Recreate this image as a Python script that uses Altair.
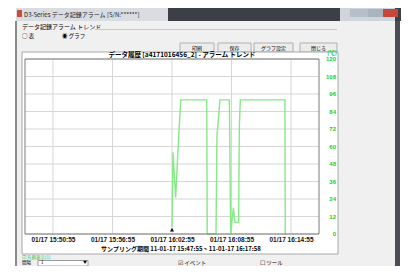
import altair as alt
import pandas as pd

# ---- data ----
sample_time = ["16:02:55", "16:03:01", "16:03:17", "16:03:31", "16:03:48",
               "16:06:25", "16:06:28", "16:07:21", "16:07:27", "16:07:45",
               "16:08:42", "16:08:50", "16:09:06", "16:09:16", "16:09:38",
               "16:09:42", "16:09:48", "16:14:18", "16:14:20"]
values = [5, 56, 25, 57, 92, 92, 0, 0, 67, 92, 92, 0, 18, 8, 8, 72, 92, 92, 0]

tick_labels = ["01/17 15:50:55", "01/17 15:56:55", "01/17 16:02:55",
               "01/17 16:08:55", "01/17 16:14:55"]
y_ticks = [0, 12, 24, 36, 48, 60, 72, 84, 96, 108, 120]
event_time = ["16:02:55"]

chart_title = "データ履歴 [a4171016456_2] - アラーム トレンド"
window_title = "D3-Series データ記録アラーム [S/N:******]"
sampling_text = "サンプリング期間 11-01-17 15:47:55 ~ 11-01-17 16:17:58"

JP = "Noto Sans CJK JP"
LAT = "Liberation Sans"


def secs(t, base="15:48:00"):
    h, m, s = map(int, t.split(":"))
    bh, bm, bs = map(int, base.split(":"))
    return (h * 3600 + m * 60 + s) - (bh * 3600 + bm * 60 + bs)


df = pd.DataFrame({"sec": [secs(t) for t in sample_time], "val": values})
ev = pd.DataFrame({"sec": [secs(t) for t in event_time], "val": [3]})
yt = pd.DataFrame({"val": y_ticks, "txt": [str(v) for v in y_ticks]})
tick_secs = [secs(l.split(" ")[1]) for l in tick_labels]
xt = pd.DataFrame({"sec": tick_secs})

label_expr = "''"
for s, l in zip(reversed(tick_secs), reversed(tick_labels)):
    label_expr = f"datum.value == {s} ? '{l}' : ({label_expr})"

X0, Y0 = 25, 59   # page position of the plot area origin
W, H = 294, 175


def box(x1, y1, x2, y2, fill, stroke=None, sw=1):
    kw = dict(fill=fill)
    if stroke:
        kw.update(stroke=stroke, strokeWidth=sw)
    else:
        kw.update(strokeWidth=0)
    return alt.Chart(alt.Data(values=[{}])).mark_rect(**kw).encode(
        x=alt.value(x1 - X0), x2=alt.value(x2 - X0),
        y=alt.value(y1 - Y0), y2=alt.value(y2 - Y0))


def outline(x1, y1, x2, y2, stroke, sw=1):
    return alt.Chart(alt.Data(values=[{}])).mark_rect(
        fillOpacity=0, stroke=stroke, strokeWidth=sw).encode(
        x=alt.value(x1 - X0), x2=alt.value(x2 - X0),
        y=alt.value(y1 - Y0), y2=alt.value(y2 - Y0))


def label(x, y, txt, size=6.5, color="#000000", align="left", font=JP, weight="normal"):
    return alt.Chart(alt.Data(values=[{}])).mark_text(
        text=txt, fontSize=size, color=color, align=align, baseline="middle",
        font=font, fontWeight=weight).encode(
        x=alt.value(x - X0), y=alt.value(y - Y0))


chrome = [
    box(8, 8, 16, 266, "#ffffff"),
    # title bar
    box(16, 8, 401, 21, "#3b4047"),
    box(16, 8, 168, 21, "#d9dde2"),
    box(340, 8, 395, 21, "#d0d5db"),
    box(350, 9, 368, 17, "#b7c0ca"),
    box(368, 9, 383, 17, "#aab4bf"),
    box(383, 9, 398, 17, "#c8453b"),
    box(17, 10, 22, 17, "#d04a3a"),
    label(24, 14.5, window_title, size=6, color="#222222"),
    # window borders
    box(15, 21, 17, 266, "#8a8a8a"),
    box(395, 21, 400, 266, "#4a4d52"),
    box(400, 21, 401, 266, "#ffffff"),
    # group box
    label(22, 26.5, "データ記録アラーム トレンド", size=6),
    box(95, 29, 337, 30, "#c8c8c8"),
    label(22, 36, "○ 表", size=5.5),
    label(62, 36, "◉ グラフ", size=5.5),
    # buttons
    box(180, 43, 214, 52, "#ececec", "#b0b0b0"),
    box(218, 43, 251, 52, "#ececec", "#b0b0b0"),
    box(254, 43, 293, 52, "#ececec", "#b0b0b0"),
    box(300, 43, 337, 52, "#ececec", "#b0b0b0"),
    label(197, 47.5, "印刷", size=5, align="center"),
    label(234.5, 47.5, "保存", size=5, align="center"),
    label(273.5, 47.5, "グラフ設定", size=5, align="center"),
    label(318.5, 47.5, "閉じる", size=5, align="center"),
    # white chart panel around the plot
    box(22, 52, 338, Y0, "#ffffff"),
    box(22, Y0, X0, Y0 + H, "#ffffff"),
    box(X0 + W, Y0, 338, Y0 + H, "#ffffff"),
    box(22, Y0 + H, 338, 254, "#ffffff"),
    outline(22, 52, 338, 254, "#a8a8a8"),
    label(182, 55, chart_title, size=6.5, align="center", weight="bold"),
    label(332, 52.5, "(℃)", size=5.5, color="#22cc22", align="center", weight="bold"),
    label(181, 248.5, sampling_text, size=6, align="center", weight="bold"),
    # bottom controls
    label(22, 257.5, "☑ 凡例表示(1)", size=4.5, color="#33bb33"),
    label(22, 263, "間隔", size=4.5),
    box(38, 260.5, 88, 266, "#ffffff", "#9a9a9a"),
    label(41, 263.3, "1", size=4.5),
    label(85, 263.3, "▼", size=4, align="center"),
    label(178, 262.5, "☑ イベント", size=5.5),
    label(260, 262.5, "☐ ツール", size=5.5),
]

xscale = alt.Scale(domain=[6, 1784], nice=False, zero=False)
yscale = alt.Scale(domain=[0, 120], nice=False)
x_axis = alt.Axis(values=tick_secs, labelExpr=label_expr, title=None,
                  orient="bottom", ticks=False, domain=False, grid=False,
                  labelFont=LAT, labelFontSize=6.5, labelFontWeight="bold",
                  labelColor="#111111", labelPadding=2, labelFlush=False,
                  labelOverlap=False, zindex=1)
y_axis = alt.Axis(values=y_ticks, title=None, orient="right", ticks=False,
                  domain=False, grid=False, labels=False)


def xenc():
    return alt.X("sec:Q", scale=xscale, axis=x_axis)


def yenc():
    return alt.Y("val:Q", scale=yscale, axis=y_axis)


hgrid = alt.Chart(yt).mark_rule(color="#d6d6d6", strokeWidth=1).encode(y=yenc())
vgrid = alt.Chart(xt).mark_rule(color="#d6d6d6", strokeWidth=1).encode(x=xenc())

line = alt.Chart(df).mark_line(color="#86e886", strokeWidth=1.4).encode(
    x=xenc(), y=yenc())

ylabels = alt.Chart(yt).mark_text(
    align="right", baseline="middle", font=LAT, fontSize=6, fontWeight="bold",
    color="#22cc22").encode(y=yenc(), x=alt.value(W + 17), text="txt:N")

event = alt.Chart(ev).mark_point(shape="triangle-up", filled=True, color="#111111",
                                  size=18, opacity=1).encode(x=xenc(), y=yenc())

frame = outline(X0, Y0, X0 + W, Y0 + H, "#7a7a7a", 1)

chart = alt.layer(*chrome, hgrid, vgrid, line, event, ylabels, frame).properties(
    width=W, height=H,
    padding={"left": 17, "top": 51, "right": 82, "bottom": 32},
    autosize=alt.AutoSizeParams(type="none"),
    background="#f0f0f0",
).configure_view(fill="#ffffff", stroke=None)

chart.save("out.html", embed_options={"renderer": "svg", "actions": False})
